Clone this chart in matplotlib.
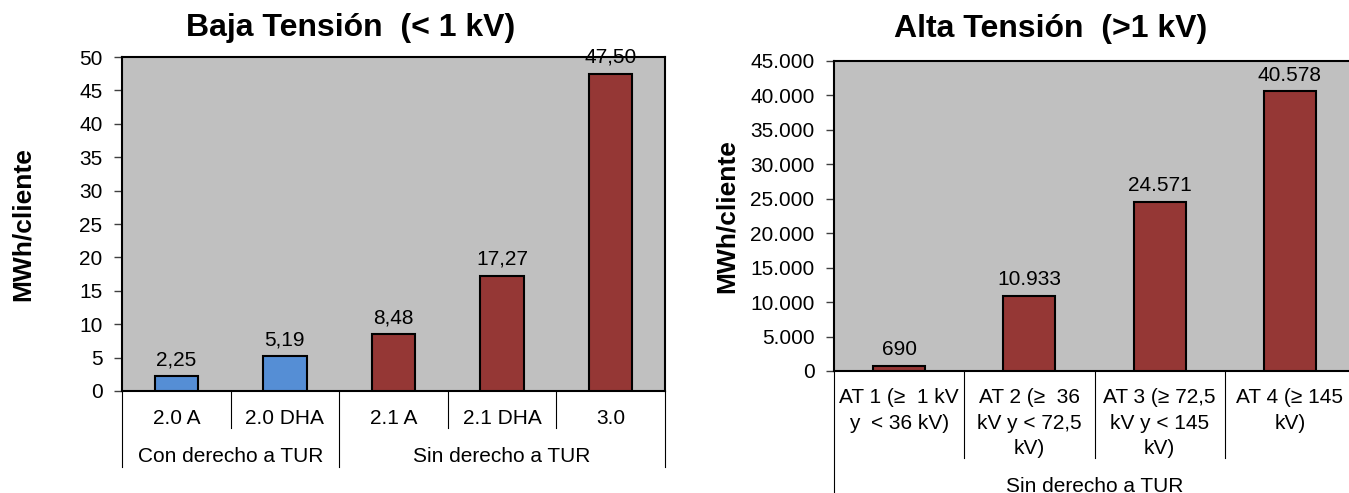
import matplotlib
matplotlib.use('Agg')
import matplotlib.pyplot as plt
from matplotlib.ticker import FuncFormatter

plt.rcParams['font.family'] = ['Liberation Sans', 'DejaVu Sans']

# Baja tension
bt_categories = ['2.0 A', '2.0 DHA', '2.1 A', '2.1 DHA', '3.0']
bt_values = [2.25, 5.19, 8.48, 17.27, 47.50]
bt_groups = ['Con derecho a TUR', 'Sin derecho a TUR']
bt_group_sizes = [2, 3]

# Alta tension
at_categories = ['AT 1 (≥  1 kV\ny  < 36 kV)', 'AT 2 (≥  36\nkV y < 72,5\nkV)',
                 'AT 3 (≥ 72,5\nkV y < 145\nkV)', 'AT 4 (≥ 145\nkV)']
at_values = [690, 10933, 24571, 40578]
at_groups = ['Sin derecho a TUR']
at_group_sizes = [4]

BLUE = '#558ED5'
RED = '#953735'
GREY = '#C0C0C0'
FS = 15

W, H = 1349, 493
fig = plt.figure(figsize=(W / 100, H / 100), dpi=100)


def px_ax(left, right, top, bottom):
    return fig.add_axes([left / W, 1 - bottom / H, (right - left) / W, (bottom - top) / H])


def fmt_es(v, decimals):
    s = '{:,.{d}f}'.format(v, d=decimals)
    return s.replace(',', 'X').replace('.', ',').replace('X', '.')


def draw(ax, cats, vals, colors, groups, sizes, ymax, ystep, decimals, tick_fmt,
         h_px, row1_off, row1_va, short_off, group_off, long_off):
    n = len(cats)
    x = list(range(n))
    ax.set_facecolor(GREY)
    ax.bar(x, vals, width=0.4, color=colors, edgecolor='black', linewidth=1.5, zorder=3)
    ax.set_xlim(-0.5, n - 0.5)
    ax.set_ylim(0, ymax)
    ax.set_yticks([i * ystep for i in range(int(round(ymax / ystep)) + 1)])
    ax.yaxis.set_major_formatter(FuncFormatter(tick_fmt))
    ax.tick_params(axis='y', labelsize=FS, length=6, width=1, color='#404040', pad=8)
    ax.set_xticks([])
    for s in ax.spines.values():
        s.set_linewidth(1.5)
        s.set_color('black')
    for xi, v in zip(x, vals):
        ax.annotate(fmt_es(v, decimals), (xi, v), xytext=(0, 5), textcoords='offset points',
                    ha='center', va='bottom', fontsize=FS)

    tr = ax.get_xaxis_transform()
    # first row of category labels
    for xi, c in zip(x, cats):
        ax.text(xi, -row1_off / h_px, c, transform=tr, ha='center', va=row1_va,
                fontsize=FS, linespacing=1.45)
    # group boundaries
    bounds = [-0.5]
    for s in sizes:
        bounds.append(bounds[-1] + s)
    for b in range(n + 1):
        xb = b - 0.5
        end = long_off if xb in bounds else short_off
        ax.plot([xb, xb], [0, -end / h_px], transform=tr, color='black', lw=0.8, clip_on=False)
    for g, a, b in zip(groups, bounds[:-1], bounds[1:]):
        ax.text((a + b) / 2, -group_off / h_px, g, transform=tr, ha='center', va='center',
                fontsize=FS)


# left chart
ax1 = px_ax(122, 665, 57, 391)
draw(ax1, bt_categories, bt_values, [BLUE, BLUE, RED, RED, RED], bt_groups, bt_group_sizes,
     50, 5, 2, lambda v, p: '{:g}'.format(v),
     334, 28, 'center', 37, 66, 76)
ax1.set_ylabel('MWh/cliente', fontsize=19, fontweight='bold')
ax1.yaxis.set_label_coords(-0.160, 0.5)

# right chart
ax2 = px_ax(834, 1355, 61, 371)
draw(ax2, at_categories, at_values, [RED] * 4, at_groups, at_group_sizes,
     45000, 5000, 0, lambda v, p: fmt_es(v, 0),
     310, 17, 'top', 87, 115, 140)
ax2.set_ylabel('MWh/cliente', fontsize=19, fontweight='bold')
ax2.yaxis.set_label_coords(-0.182, 0.5)

fig.text(351 / W, 1 - 28 / H, 'Baja Tensión  (< 1 kV)', ha='center', va='center',
         fontsize=23, fontweight='bold')
fig.text(1051 / W, 1 - 29 / H, 'Alta Tensión  (>1 kV)', ha='center', va='center',
         fontsize=23, fontweight='bold')

fig.savefig('out.png', dpi=100)
